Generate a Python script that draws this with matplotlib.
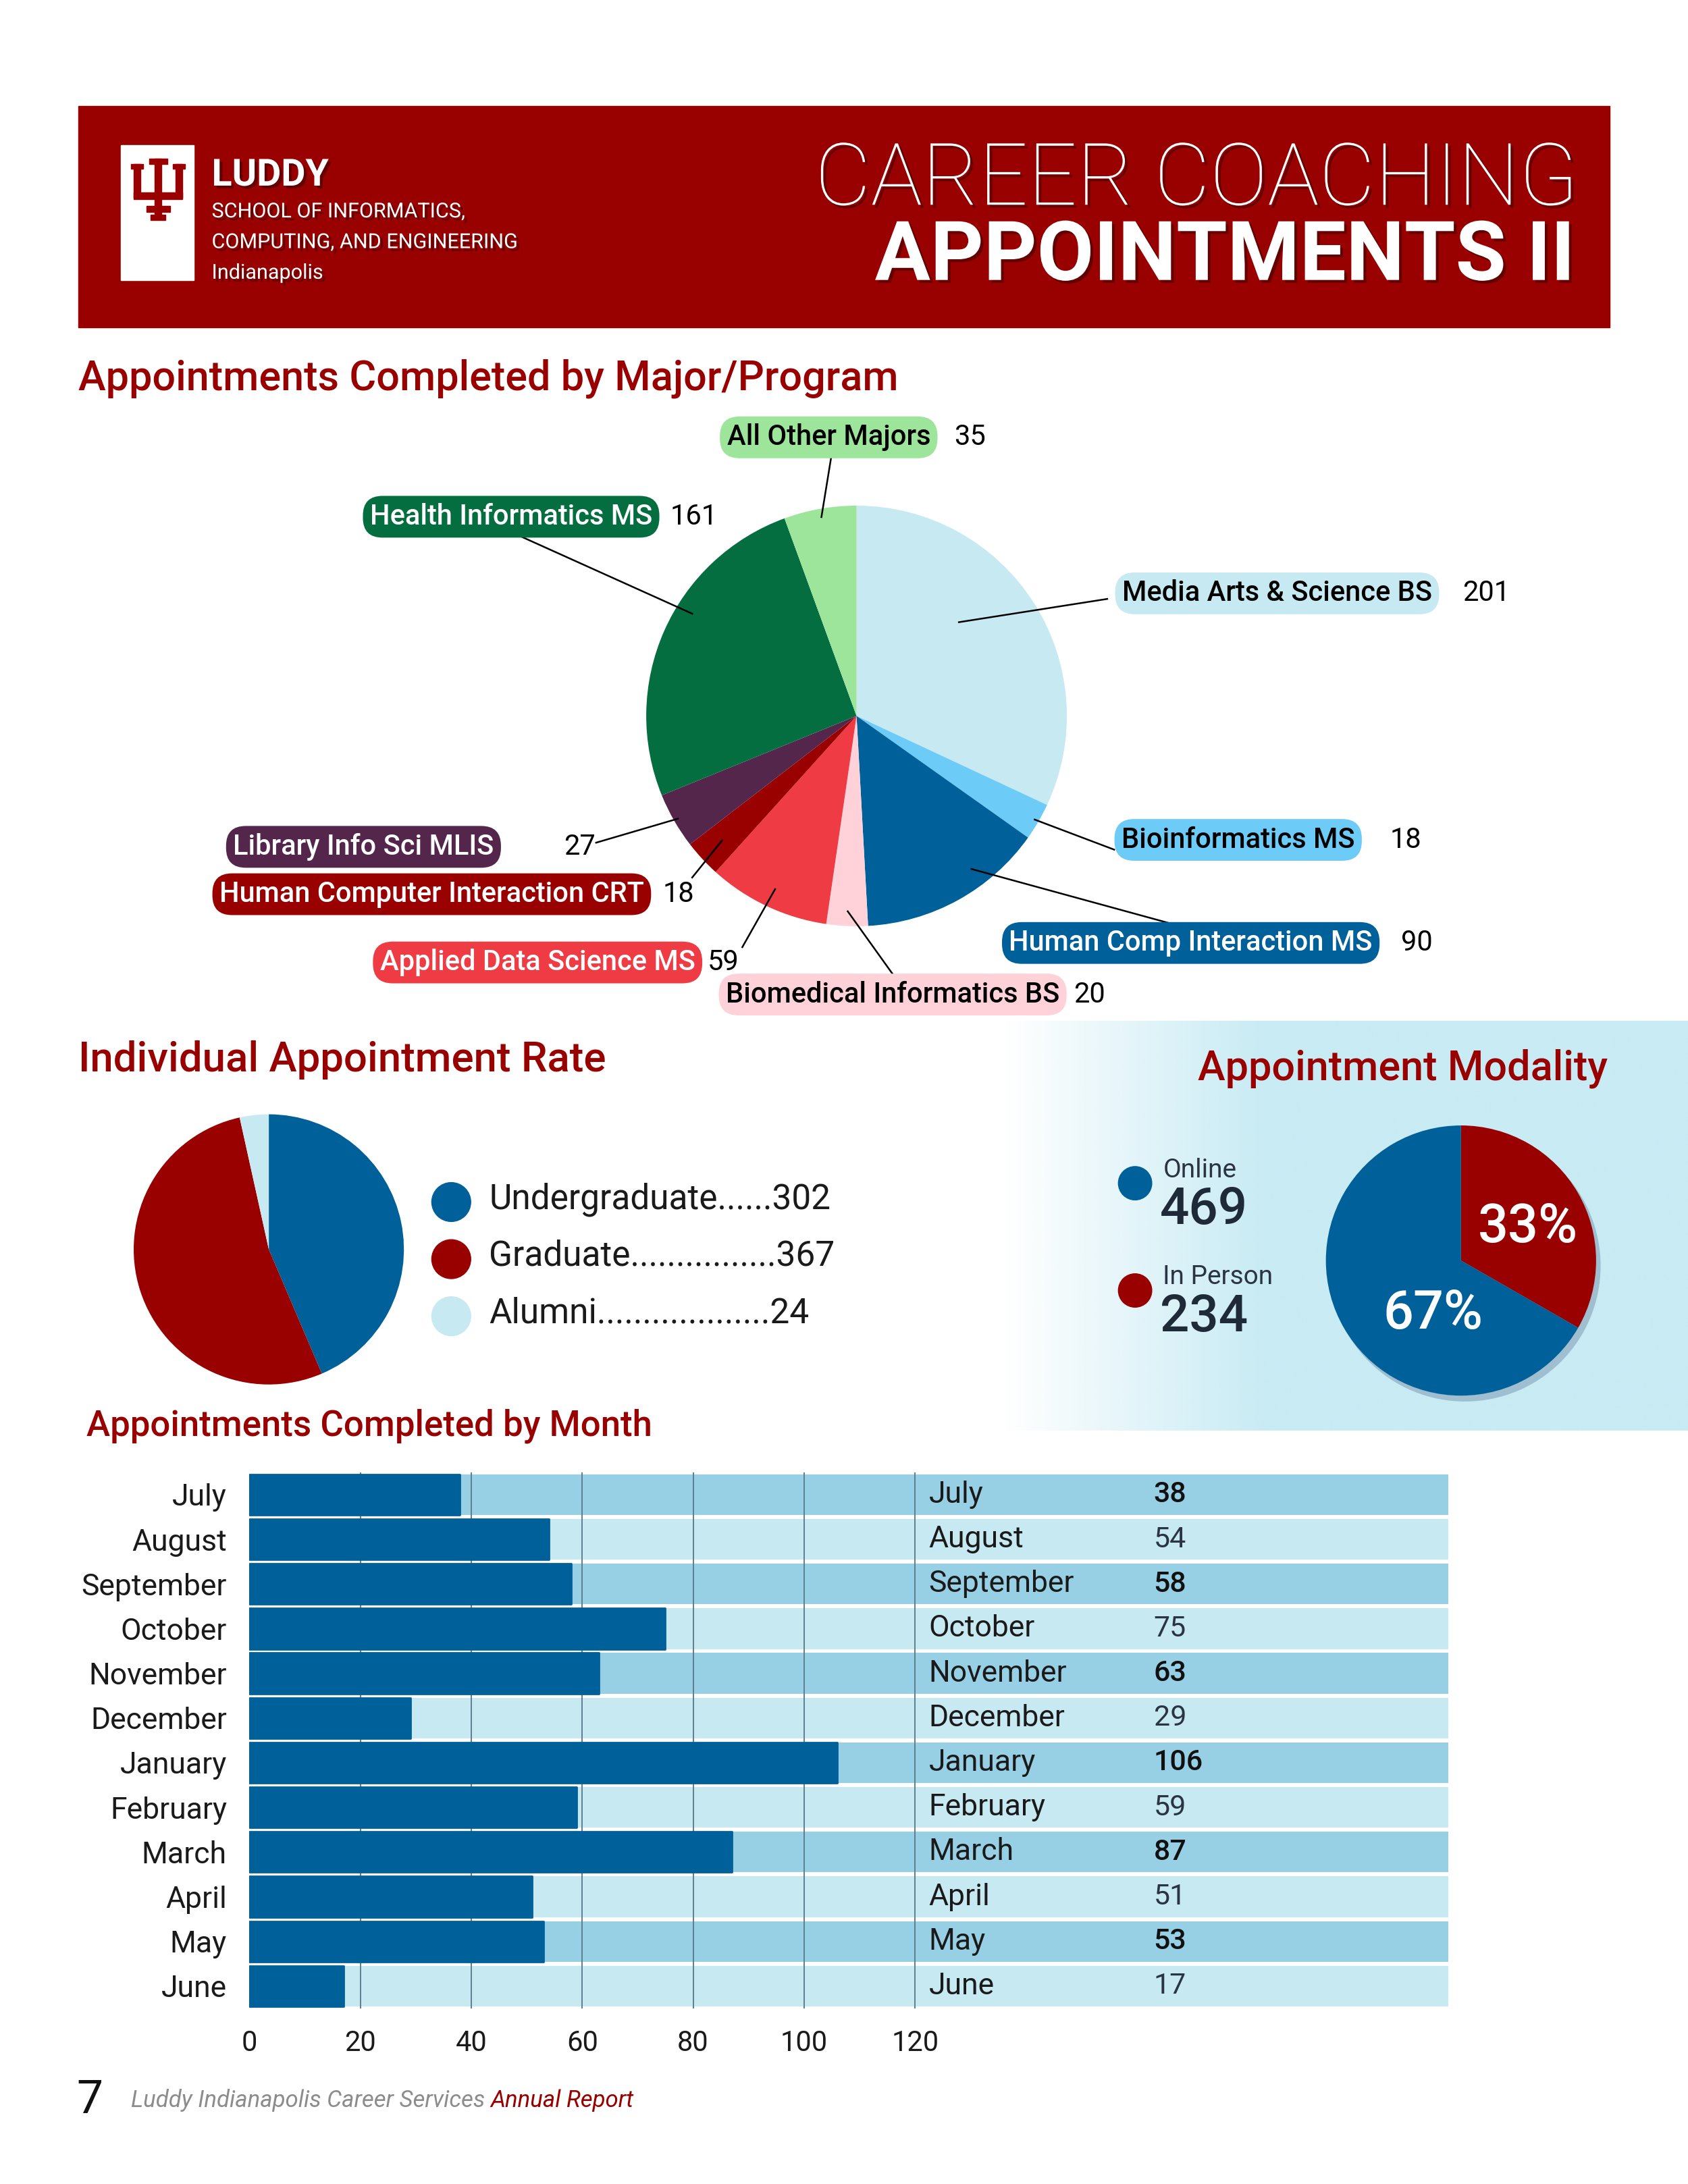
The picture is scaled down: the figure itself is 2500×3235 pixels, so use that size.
import numpy as np
import matplotlib.pyplot as plt
from matplotlib.patches import Rectangle, Circle
import matplotlib.patheffects as pe
from matplotlib.colors import to_rgb

plt.rcParams['font.family'] = ['Roboto', 'DejaVu Sans']

# ---- data
majors = ['Media Arts & Science BS', 'Bioinformatics MS', 'Human Comp Interaction MS',
          'Biomedical Informatics BS', 'Applied Data Science MS',
          'Human Computer Interaction CRT', 'Library Info Sci MLIS',
          'Health Informatics MS', 'All Other Majors']
major_counts = [201, 18, 90, 20, 59, 18, 27, 161, 35]

levels = ['Undergraduate', 'Graduate', 'Alumni']
level_counts = [302, 367, 24]

modes = ['In Person', 'Online']
mode_counts = [234, 469]

months = ['July', 'August', 'September', 'October', 'November', 'December',
          'January', 'February', 'March', 'April', 'May', 'June']
month_counts = [38, 54, 58, 75, 63, 29, 106, 59, 87, 51, 53, 17]
xticks = [0, 20, 40, 60, 80, 100, 120]

# ---- colours / styles
RED = '#990000'
BLUE = '#00609a'
LBLUE = '#c6e9f2'
major_colors = ['#c6e9f2', '#6dcbf7', '#00609a', '#ffd1d9', '#ef3b43',
                '#990000', '#55264b', '#056e41', '#9de59a']
major_text = ['black', 'black', 'white', 'black', 'white', 'white', 'white', 'white', 'black']
level_colors = [BLUE, RED, LBLUE]
mode_colors = [RED, BLUE]

W, H = 1212, 1568  # layout grid (scaled page units)

fig = plt.figure(figsize=(25, 32.35), dpi=100)
fig.patch.set_facecolor('white')


def rect(x0, y0, x1, y1):
    return [x0 / W, 1 - y1 / H, (x1 - x0) / W, (y1 - y0) / H]


def page_axes(z):
    a = fig.add_axes([0, 0, 1, 1], zorder=z)
    a.set_xlim(0, W)
    a.set_ylim(H, 0)
    a.axis('off')
    a.patch.set_alpha(0)
    return a


def pie_axes(cx, cy, r, pad=1.06):
    a = fig.add_axes(rect(cx - r * pad, cy - r * pad, cx + r * pad, cy + r * pad), zorder=2)
    return a


def fix_pie(a, pad=1.06):
    a.set_xlim(-pad, pad)
    a.set_ylim(-pad, pad)
    a.axis('off')


bg = page_axes(0)
fg = page_axes(5)

# ---- header
bg.add_patch(Rectangle((56, 76), 1100, 159, color=RED, zorder=1))
bg.add_patch(Rectangle((87, 104), 52, 97, color='white', zorder=2))
for x, y, w, h in [(111, 114, 5, 43), (107, 114, 13, 4), (96, 118, 5, 24), (126, 118, 5, 24),
                   (94, 118, 9, 3), (124, 118, 9, 3), (96, 138, 35, 5), (105, 148, 17, 4),
                   (108, 154, 11, 4)]:
    bg.add_patch(Rectangle((x, y), w, h, color=RED, zorder=3))

shadow = [pe.withSimplePatchShadow(offset=(3, -3), shadow_rgbFace='black', alpha=0.35)]
fg.text(152, 126, 'LUDDY', color='white', fontsize=40, fontweight='bold', va='center',
        path_effects=shadow)
for y, s in [(152, 'SCHOOL OF INFORMATICS,'), (174, 'COMPUTING, AND ENGINEERING'),
             (196, 'Indianapolis')]:
    fg.text(152, y, s, color='white', fontsize=22, va='center', path_effects=shadow)
fg.text(1133, 147, 'CAREER COACHING', color='white', fontsize=92, fontweight='light',
        ha='right', va='baseline', path_effects=shadow)
fg.text(1131, 201, 'APPOINTMENTS II', color='white', fontsize=88, fontweight='bold',
        ha='right', va='baseline', path_effects=shadow)

# ---- section titles
title_kw = dict(color=RED, fontweight='medium', va='center')
fg.text(56, 272, 'Appointments Completed by Major/Program', fontsize=44, **title_kw)
fg.text(56, 761, 'Individual Appointment Rate', fontsize=44.5, **title_kw)
fg.text(860, 767, 'Appointment Modality', fontsize=44, **title_kw)
fg.text(62, 1024, 'Appointments Completed by Month', fontsize=38, **title_kw)

# ---- pie by major
cx, cy, r = 615, 514, 151
ax1 = pie_axes(cx, cy, r)
wedges, _ = ax1.pie(major_counts, colors=major_colors, startangle=90, counterclock=False,
                    radius=1)
fix_pie(ax1)

label_xy = [(917, 426), (889, 603), (855, 677), (641, 714), (386, 691), (310, 642),
            (261, 608), (367, 371), (595, 314)]
label_pad = [0.25, 0.25, 0.25, 0.25, 0.25, 0.25, 0.25, 0.25, 0.25]
value_x = [1050, 998, 1006, 771, 508, 476, 405, 481, 685]
line_out = [(795, 430), (800, 610), (855, 667), (645, 705), (533, 680), (497, 630),
            (428, 605), (367, 382), (597, 327)]
line_in = [0.66, 0.98, 0.91, 0.93, 0.91, 0.87, 0.98, 0.92, 0.96]
line_turn = [10, 0, 8, 0, 0, 0, 0, -8, 0]   # small angular offsets of the inner end
for i, w in enumerate(wedges):
    mid = np.deg2rad((w.theta1 + w.theta2) / 2 + line_turn[i])
    px = cx + line_in[i] * r * np.cos(mid)
    py = cy - line_in[i] * r * np.sin(mid)
    fg.plot([px, line_out[i][0]], [py, line_out[i][1]], color='black', lw=1.8, zorder=1)
    fg.text(label_xy[i][0], label_xy[i][1], majors[i], ha='center', va='center',
            fontsize=30, fontweight='medium', color=major_text[i], zorder=3,
            bbox=dict(boxstyle=f'round,pad={label_pad[i]},rounding_size=0.7',
                      fc=major_colors[i], ec='none'))
    fg.text(value_x[i], label_xy[i][1], str(major_counts[i]), ha='left', va='center',
            fontsize=30, color='black', zorder=3)

# ---- individual appointment rate
ax2 = pie_axes(193, 897, 97)
ax2.pie(level_counts, colors=level_colors, startangle=90, counterclock=False, radius=1)
fix_pie(ax2)
dots = [6, 16, 19]
for i, y in enumerate([861, 902, 943]):
    fg.add_patch(Circle((324, y + 2), 14, color=level_colors[i]))
    fg.text(351, y, levels[i] + '.' * dots[i] + str(level_counts[i]), fontsize=37,
            va='center', color='#1a1a1a')

# ---- modality
grad = np.zeros((2, 400, 4))
grad[..., :3] = to_rgb('#c8ebf4')
grad[..., 3] = np.clip(np.linspace(0, 1, 400) / 0.38, 0, 1)
bg.imshow(grad, extent=(722, W, 1027, 733), aspect='auto', zorder=0, interpolation='bilinear')
bg.set_xlim(0, W)
bg.set_ylim(H, 0)

for (y_lab, y_num), name, cnt, col in [((840, 869), 'Online', mode_counts[1], BLUE),
                                       ((917, 946), 'In Person', mode_counts[0], RED)]:
    fg.add_patch(Circle((815, (y_lab + y_num) / 2 - 5), 12, color=col))
    fg.text(835, y_lab, name, fontsize=28, va='center', color='#2b3442')
    fg.text(833, y_num, str(cnt), fontsize=55, fontweight='medium', va='center',
            color='#1f2a38')

ax3 = pie_axes(1049, 905, 97, pad=1.12)
ax3.add_patch(Circle((0.03, -0.04), 1, color='#9fbfd0', zorder=0))
ax3.pie(mode_counts, colors=mode_colors, startangle=90, counterclock=False, radius=1,
        wedgeprops=dict(zorder=1))
fix_pie(ax3, 1.12)
pct_xy = [(1097, 881), (1029, 943)]
total = sum(mode_counts)
for i, c in enumerate(mode_counts):
    fg.text(pct_xy[i][0], pct_xy[i][1], f'{round(100 * c / total)}%', color='white',
            fontsize=57, fontweight='medium', ha='center', va='center')

# ---- by month
bx = fig.add_axes(rect(179, 1057, 1040, 1442), zorder=2)
xmax = (1040 - 179) / ((657 - 179) / 120)
y = np.arange(len(months))
bands = ['#97d0e5' if i % 2 == 0 else LBLUE for i in y]
bx.barh(y, xmax, height=0.91, color=bands, zorder=0)
bx.vlines(xticks[1:], -0.5, len(months) - 0.5, color='#5d7f90', lw=1.4, zorder=1)
bx.barh(y, month_counts, height=0.91, color=BLUE, zorder=2, edgecolor=BLUE, lw=2,
        joinstyle='round')
bx.set_xlim(0, xmax)
bx.set_ylim(len(months) - 0.5, -0.5)
bx.set_yticks(y, months, fontsize=32, color='#1a1a1a')
bx.set_xticks(xticks, [str(t) for t in xticks], fontsize=30, color='#1a1a1a')
bx.tick_params(axis='y', length=0, pad=24)
bx.tick_params(axis='x', length=0, pad=22)
for s in bx.spines.values():
    s.set_visible(False)
for i, (m, c) in enumerate(zip(months, month_counts)):
    bold = i % 2 == 0
    bx.text(122.5, i, m, fontsize=32, va='center', color='#1a1a1a')
    bx.text(163, i, str(c), fontsize=31, va='center',
            fontweight='medium' if bold else 'normal',
            color='#111111' if bold else '#2b3442')

# ---- footer
fg.text(55, 1508, '7', fontsize=50, va='center', color='#111111')
t1 = fg.text(94, 1508, 'Luddy Indianapolis Career Services ', fontsize=25, style='italic',
             va='center', color='#8c8c8c')
fg.annotate('Annual Report', xy=(1, 0), xycoords=t1, va='bottom', ha='left', fontsize=25,
            style='italic', color=RED)

fig.savefig('out.png', dpi=100)
